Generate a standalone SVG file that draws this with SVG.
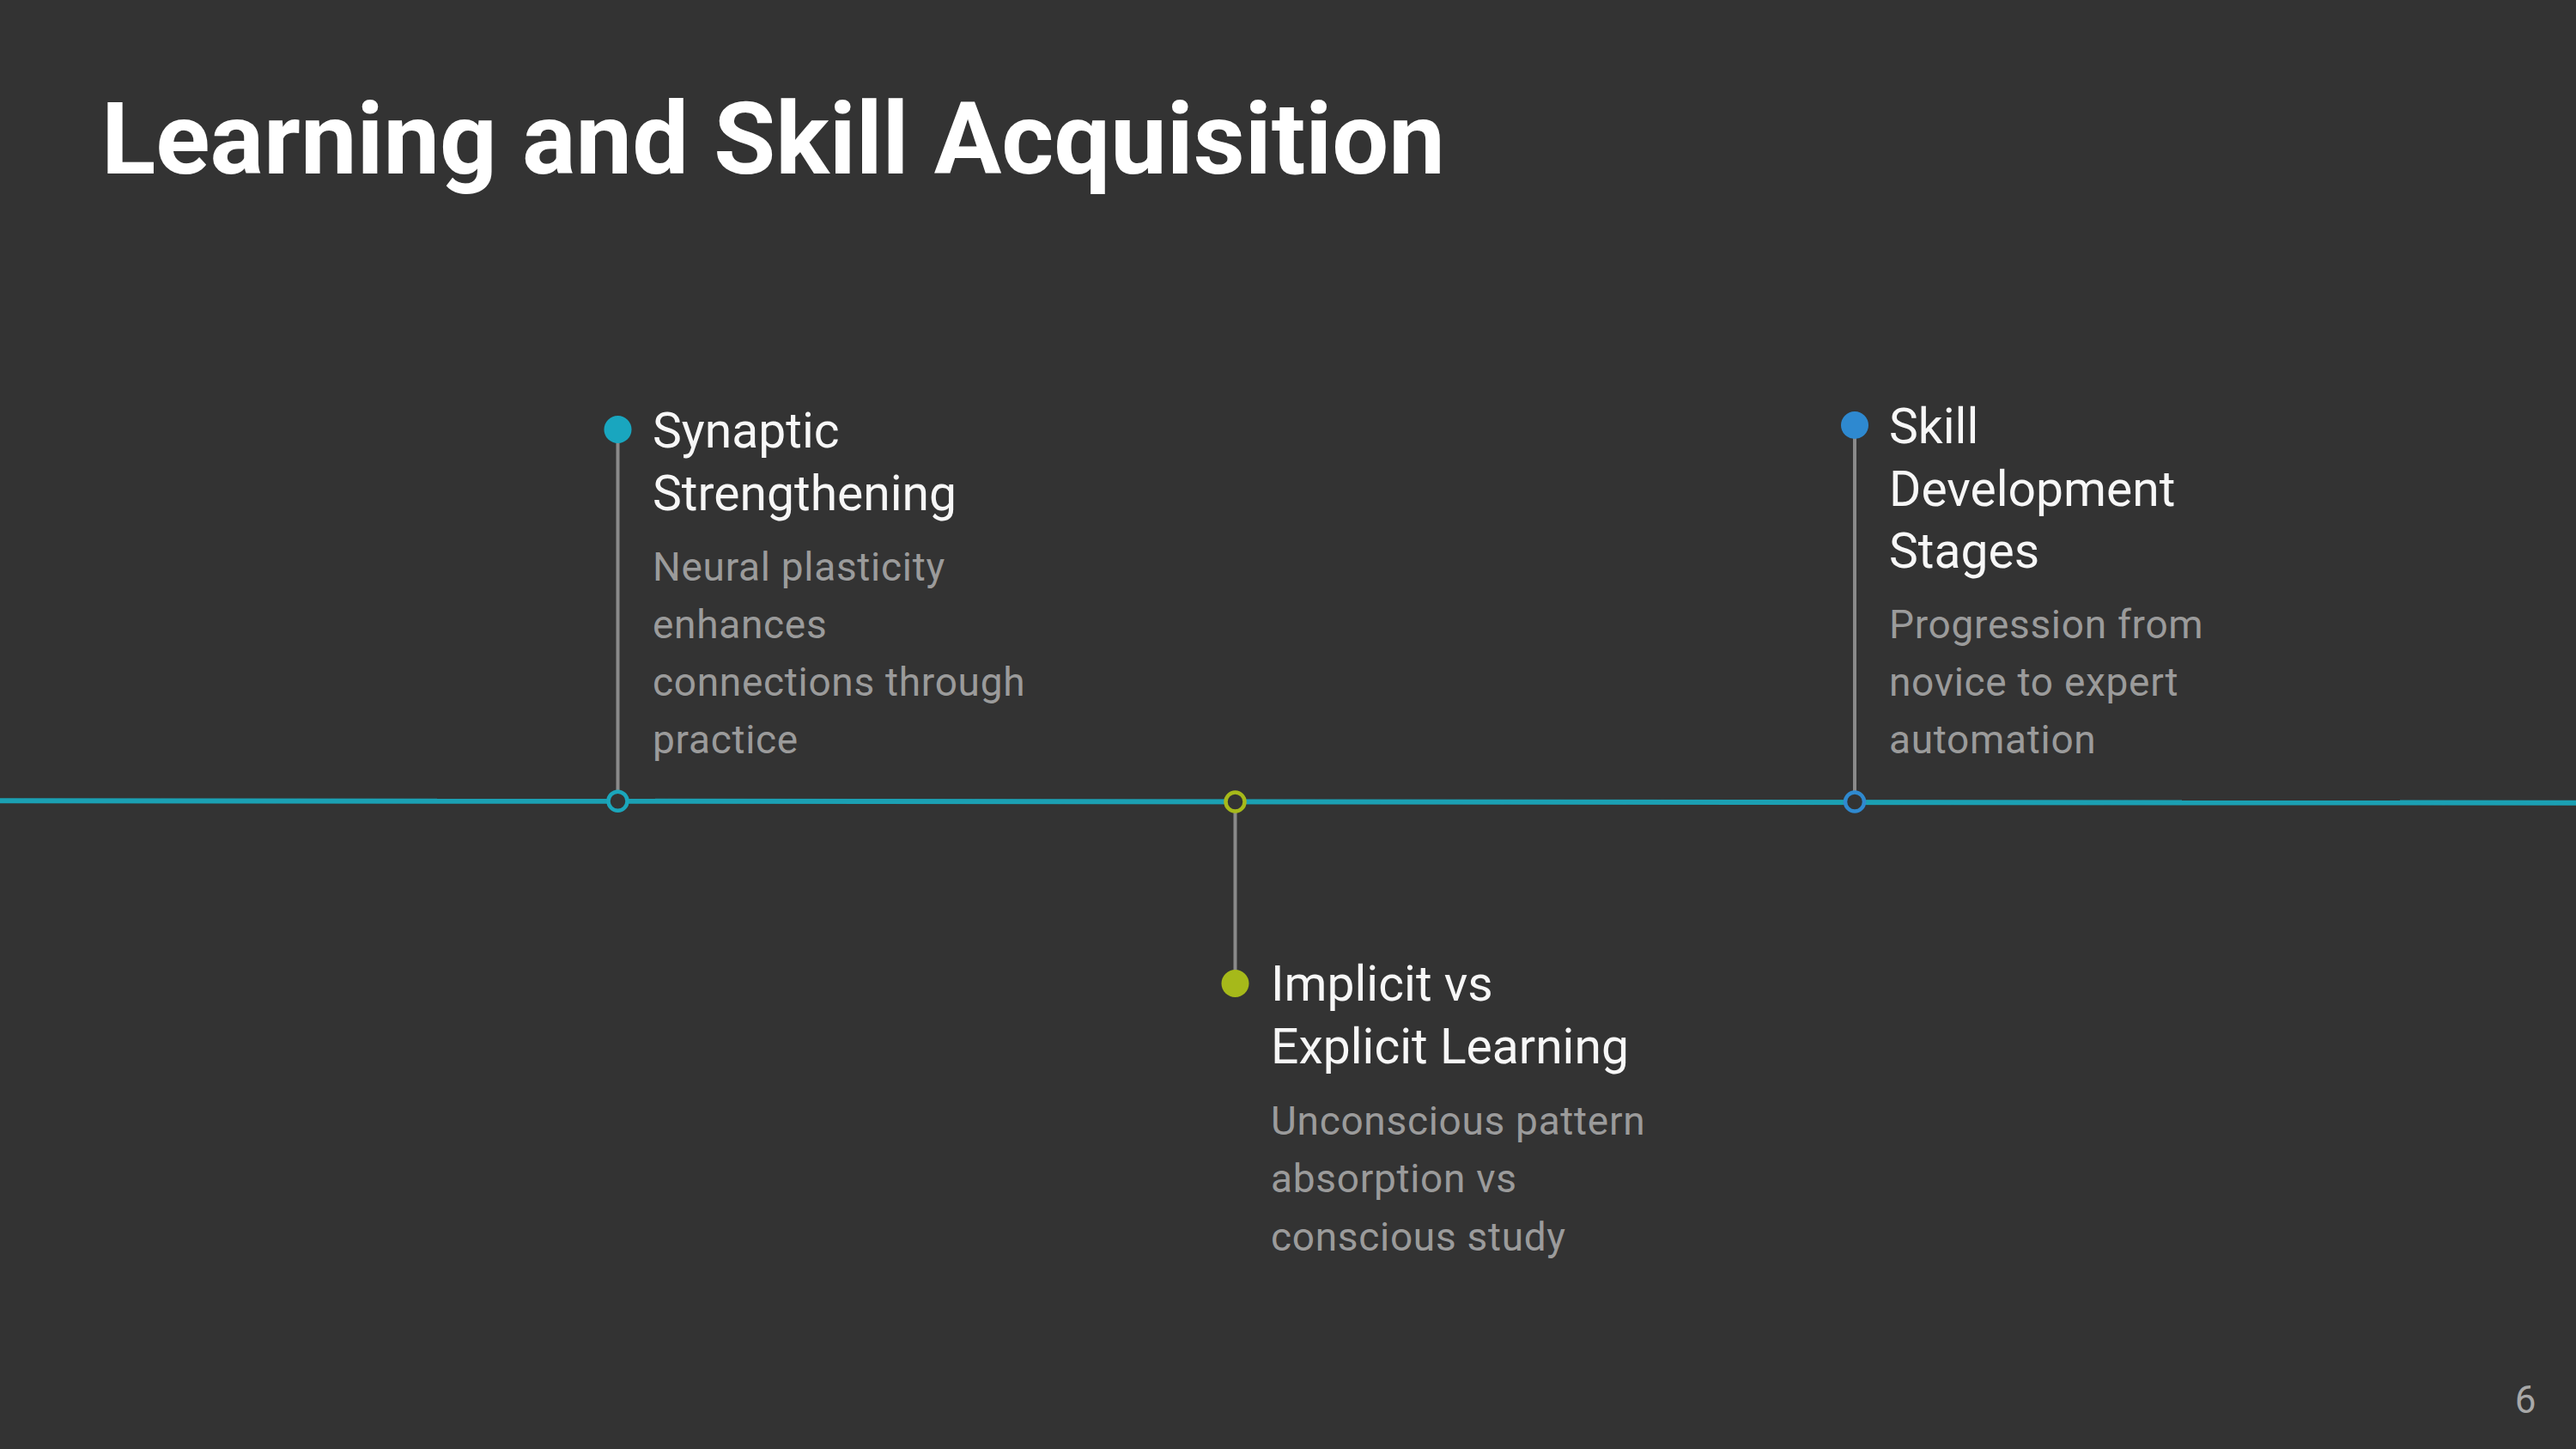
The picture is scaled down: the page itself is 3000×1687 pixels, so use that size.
<svg xmlns="http://www.w3.org/2000/svg" width="3000" height="1687" viewBox="0 0 3000 1687">
  <style>
    .title { font-family: Roboto, "Liberation Sans", sans-serif; font-weight: 700; font-size: 117px; fill: #ffffff; }
    .head { font-family: Roboto, "Liberation Sans", sans-serif; font-size: 57px; fill: #f7f7f7; }
    .desc { font-family: Roboto, "Liberation Sans", sans-serif; font-size: 46px; letter-spacing: 0.7px; fill: #9b9b9b; }
    .page { font-family: Roboto, "Liberation Sans", sans-serif; font-size: 44px; fill: #a8a8a8; }
    .stem { stroke: #8a8a8a; stroke-width: 4; }
    .ring { fill: #333333; stroke-width: 4.5; }
  </style>

  <rect width="3000" height="1687" fill="#333333"/>

  <text class="title" x="118" y="202">Learning and Skill Acquisition</text>

  <!-- timeline axis and stems -->
  <g id="connectors">
    <line x1="0" y1="932.2" x2="3000" y2="934.8" stroke="#1ba0b3" stroke-width="6"/>
    <line class="stem" x1="719.5" y1="500" x2="719.5" y2="933"/>
    <line class="stem" x1="1438.5" y1="933" x2="1438.5" y2="1145"/>
    <line class="stem" x1="2160" y1="495" x2="2160" y2="933"/>
  </g>

  <g id="node-synaptic">
    <circle class="ring" cx="719.5" cy="932.7" r="11" stroke="#1ba6bb"/>
    <circle cx="719.5" cy="500" r="16" fill="#19a6bf"/>
    <text class="head">
      <tspan x="760" y="521">Synaptic</tspan>
      <tspan x="760" y="594">Strengthening</tspan>
    </text>
    <text class="desc">
      <tspan x="760" y="676">Neural plasticity</tspan>
      <tspan x="760" y="743">enhances</tspan>
      <tspan x="760" y="810">connections through</tspan>
      <tspan x="760" y="877">practice</tspan>
    </text>
  </g>

  <g id="node-implicit">
    <circle class="ring" cx="1438.5" cy="933.5" r="11" stroke="#a6b91a"/>
    <circle cx="1438.5" cy="1145" r="16" fill="#a6b91a"/>
    <text class="head">
      <tspan x="1480" y="1165">Implicit vs</tspan>
      <tspan x="1480" y="1238">Explicit Learning</tspan>
    </text>
    <text class="desc">
      <tspan x="1480" y="1321">Unconscious pattern</tspan>
      <tspan x="1480" y="1388">absorption vs</tspan>
      <tspan x="1480" y="1456">conscious study</tspan>
    </text>
  </g>

  <g id="node-skill">
    <circle class="ring" cx="2160" cy="933.5" r="11" stroke="#2f89cf"/>
    <circle cx="2160" cy="495" r="16" fill="#2e89d0"/>
    <text class="head">
      <tspan x="2200" y="516">Skill</tspan>
      <tspan x="2200" y="589">Development</tspan>
      <tspan x="2200" y="661">Stages</tspan>
    </text>
    <text class="desc">
      <tspan x="2200" y="743">Progression from</tspan>
      <tspan x="2200" y="810">novice to expert</tspan>
      <tspan x="2200" y="877">automation</tspan>
    </text>
  </g>

  <text class="page" x="2941" y="1645" text-anchor="middle">6</text>
</svg>
